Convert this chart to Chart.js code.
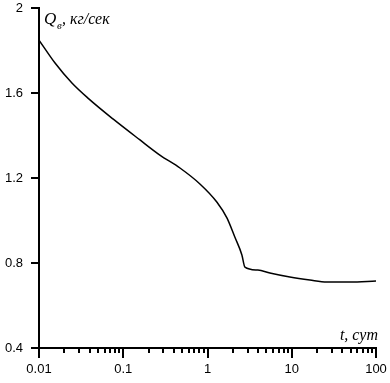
<!DOCTYPE html>
<html>
<head>
<meta charset="utf-8">
<script src="https://cdn.jsdelivr.net/npm/chart.js@4.4.1/dist/chart.umd.min.js"></script>
<style>
  html, body { margin: 0; padding: 0; background: #fff; }
  #wrap { width: 390px; height: 383px; position: relative; }
</style>
</head>
<body>
<div id="wrap"><canvas id="chart" width="390" height="383"></canvas></div>
<script>
// values
const tValues = [0.01, 0.0155, 0.0246, 0.0381, 0.0755, 0.158, 0.272, 0.471, 0.813, 1.29, 1.70, 2.11, 2.56, 2.78, 3.96, 5.50, 9.49, 16.4, 26.1, 48.9, 100];
const qValues = [1.849, 1.741, 1.647, 1.576, 1.478, 1.379, 1.308, 1.247, 1.172, 1.087, 1.012, 0.922, 0.838, 0.781, 0.767, 0.753, 0.734, 0.720, 0.711, 0.711, 0.715];
const xTicks = [0.01, 0.1, 1, 10, 100];
const yTicks = [0.4, 0.8, 1.2, 1.6, 2];
const xMinor = [2, 3, 4, 5, 6, 7, 8, 9];

const labelsPlugin = {
  id: "labels",
  afterDraw(chart) {
    const ctx = chart.ctx;
    const x = chart.scales.x;
    const bottom = chart.chartArea.bottom;
    ctx.save();
    // minor ticks
    ctx.strokeStyle = "#000";
    ctx.lineWidth = 2;
    ctx.beginPath();
    for (let d = 0; d < xTicks.length - 1; d++) {
      xMinor.forEach((m) => {
        const px = Math.round(x.getPixelForValue(xTicks[d] * m));
        ctx.moveTo(px, bottom);
        ctx.lineTo(px, bottom + 5);
      });
    }
    ctx.stroke();

    // axis titles
    ctx.fillStyle = "#000";
    ctx.textBaseline = "alphabetic";
    ctx.font = "italic 17px 'Liberation Serif'";
    ctx.fillText("Q", 44, 24);
    ctx.font = "italic 11px 'Liberation Serif'";
    ctx.fillText("в", 57, 29);
    ctx.font = "italic 16px 'Liberation Serif'";
    ctx.fillText(", кг/сек", 62, 24);
    ctx.textAlign = "right";
    ctx.fillText("t, сут", 378, 340);
    ctx.restore();
  },
};

new Chart(document.getElementById("chart"), {
  type: "line",
  data: {
    labels: tValues,
    datasets: [
      {
        data: tValues.map((t, i) => ({ x: t, y: qValues[i] })),
        borderColor: "#000",
        borderWidth: 1.5,
        pointRadius: 0,
        cubicInterpolationMode: "monotone",
        fill: false,
      },
    ],
  },
  options: {
    responsive: false,
    animation: false,
    layout: { padding: { top: 8, right: 14, left: 0, bottom: 0 } },
    plugins: { legend: { display: false }, tooltip: { enabled: false } },
    scales: {
      x: {
        type: "logarithmic",
        min: 0.01,
        max: 100,
        afterBuildTicks: (scale) => {
          scale.ticks = xTicks.map((v) => ({ value: v }));
        },
        afterFit: (scale) => {
          scale.height = 35;
          scale.paddingRight = 0;
          scale.paddingLeft = 0;
        },
        border: { color: "#000", width: 2 },
        grid: { drawOnChartArea: false, drawTicks: true, tickLength: 10, color: "#000", lineWidth: 2 },
        ticks: {
          color: "#000",
          font: { family: "'Liberation Sans'", size: 13 },
          padding: 4,
          maxRotation: 0,
          autoSkip: false,
          callback: (v) => String(v),
        },
      },
      y: {
        min: 0.4,
        max: 2,
        afterBuildTicks: (scale) => {
          scale.ticks = yTicks.map((v) => ({ value: v }));
        },
        afterFit: (scale) => {
          scale.width = 39;
          scale.paddingTop = 0;
          scale.paddingBottom = 0;
        },
        border: { color: "#000", width: 2 },
        grid: { drawOnChartArea: false, drawTicks: true, tickLength: 8, color: "#000", lineWidth: 2 },
        ticks: {
          color: "#000",
          font: { family: "'Liberation Sans'", size: 13 },
          padding: 8,
          callback: (v) => String(v),
        },
      },
    },
  },
  plugins: [labelsPlugin],
});
</script>
</body>
</html>
